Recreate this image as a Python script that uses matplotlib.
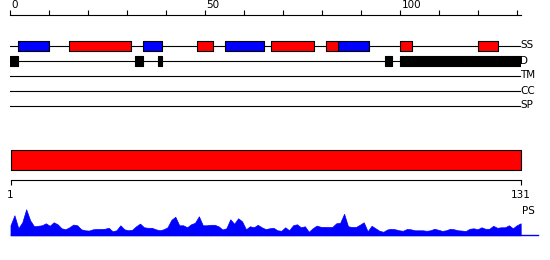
import matplotlib
matplotlib.use("Agg")
import matplotlib.pyplot as plt
import numpy as np

plt.rcParams['font.family'] = ['DejaVu Sans Condensed', 'DejaVu Sans']

# sequence / tracks
seq_len = 131
ruler_ticks = list(range(0, 131, 10))
ruler_labels = [0, 50, 100]
track_names = ['SS', 'D', 'TM', 'CC', 'SP']

# secondary structure (start, end)
ss_helix = [(15, 31), (48, 52), (67, 78), (81, 84), (100, 103), (120, 125)]
ss_strand = [(2, 10), (34, 39), (55, 65), (84, 92)]
# disorder
disorder = [(0, 2), (32, 34), (38, 39), (96, 98), (100, 131)]

# per residue profile (PS)
ps_values = [10, 20, 7, 13, 26, 15, 9, 9.5, 10, 12,
             9.5, 13, 11, 7, 6, 8, 10.7, 10, 6, 5,
             4.7, 6, 6.3, 6.3, 6.5, 7.5, 4, 5, 10, 6,
             5, 5.5, 9, 11.7, 8, 7.5, 7.5, 6, 5, 6,
             8, 15.5, 18.5, 10, 10, 8, 11, 12.5, 19, 10,
             10, 10.5, 10.5, 9, 5.8, 7, 16, 11.5, 17, 14,
             6, 9, 8, 10.5, 8, 6.2, 7, 7.5, 5, 4.5,
             8, 5, 10, 11, 8, 9, 3.5, 7, 9.7, 8.5,
             8.3, 8.3, 8.3, 12, 12.5, 21.5, 9, 8.3, 8.3, 10.5,
             13, 4, 9.5, 7, 4.5, 3.5, 5.8, 6.5, 6, 5,
             4.5, 6.3, 6, 5, 5, 5, 4.5, 5, 6.5, 5.5,
             4.4, 5, 6.5, 6, 5, 4.7, 4.3, 6.5, 7, 6,
             8, 6.5, 6.5, 9.5, 7.5, 8, 8, 10, 7, 10,
             12]
ps_pos = np.arange(1, seq_len + 1)

W, H = 550, 260
fig = plt.figure(figsize=(W / 100, H / 100), dpi=100)


def px_axes(x0, x1, y0, y1):
    ax = fig.add_axes([x0 / W, 1 - y1 / H, (x1 - x0) / W, (y1 - y0) / H])
    ax.set_axis_off()
    return ax


FS = 7.5
lw = 0.8

# ---- feature tracks ----
ax = px_axes(10.3, 521, 0, 115)
ax.set_xlim(0, seq_len)
ax.set_ylim(115, 0)

ax.plot([0, seq_len], [15, 15], color='black', lw=lw, clip_on=False)
ax.vlines(ruler_ticks, 10, 15, color='black', lw=lw, clip_on=False)
for t in ruler_labels:
    ax.text(t + 0.3, 10.5, str(t), fontsize=FS, ha='left', va='bottom')

track_y = {name: 45.5 + 15 * i for i, name in enumerate(track_names)}
for name, y in track_y.items():
    ax.plot([0, seq_len - 0.3], [y, y], color='black', lw=lw, clip_on=False,
            zorder=1)
    ax.text(seq_len - 0.2, y, name, fontsize=FS, ha='left', va='center')

y = track_y['SS']
ax.broken_barh([(s, e - s) for s, e in ss_strand], (y - 5, 10),
               facecolors='#0000ff', edgecolor='black', lw=lw, zorder=3)
ax.broken_barh([(s, e - s) for s, e in ss_helix], (y - 5, 10),
               facecolors='#ff0000', edgecolor='black', lw=lw, zorder=3)
y = track_y['D']
ax.broken_barh([(s, e - s) for s, e in disorder], (y - 5, 10),
               facecolors='black', edgecolor='black', lw=lw, zorder=3)

# ---- whole-sequence bar ----
ax2 = px_axes(10.5, 520.7, 140, 200)
ax2.set_xlim(1, seq_len)
ax2.set_ylim(200, 140)
ax2.broken_barh([(1, seq_len - 1)], (150, 20), facecolors='#ff0000',
                edgecolor='black', lw=lw, clip_on=False)
ax2.plot([1, seq_len], [180.3, 180.3], color='black', lw=lw, clip_on=False)
ax2.vlines([1, seq_len], 180.3, 185, color='black', lw=lw, clip_on=False)
for t in [1, seq_len]:
    ax2.text(t, 189.5, str(t), fontsize=FS, ha='center', va='top')

# ---- profile ----
ax3 = px_axes(10.5, 520.7, 204.3, 235.3)
ax3.set_xlim(1, seq_len)
ax3.set_ylim(0, 31)
ax3.fill_between(ps_pos, ps_values, 0, color='#0000ff', lw=0.5, clip_on=False)
ax3.plot([1, seq_len + 4.4], [0.3, 0.3], color='#0000ff', lw=1, clip_on=False)
ax3.text(seq_len + 0.3, 24.3, 'PS', fontsize=FS, ha='left', va='center')

fig.savefig('out.png', dpi=100)
